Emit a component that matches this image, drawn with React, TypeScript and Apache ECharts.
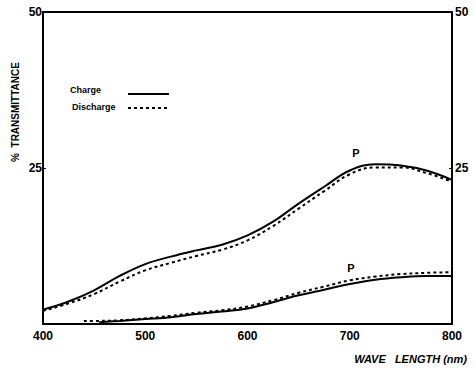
import React, { useEffect, useRef } from "react";
import * as echarts from "echarts";

const wavelengths = [400, 425, 450, 475, 500, 525, 550, 575, 600, 625, 650, 675, 700, 725, 750, 775, 800];
const chargeHigh = [2.3, 3.6, 5.4, 7.7, 9.6, 10.8, 11.8, 12.7, 14.2, 16.4, 19.3, 22.0, 24.6, 25.6, 25.4, 24.6, 23.1];
const dischargeHigh = [2.1, 3.3, 4.8, 6.8, 8.6, 9.8, 10.9, 11.9, 13.4, 15.7, 18.5, 21.3, 24.0, 25.1, 25.1, 24.2, 22.8];

const wavelengthsLow = [440, 455, 475, 500, 525, 550, 575, 600, 625, 650, 675, 700, 725, 750, 775, 800];
const chargeLow = [null, 0.3, 0.5, 0.8, 1.1, 1.6, 2.0, 2.5, 3.5, 4.6, 5.5, 6.4, 7.1, 7.5, 7.7, 7.7];
const dischargeLow = [0.5, 0.5, 0.6, 0.9, 1.3, 1.8, 2.2, 2.8, 3.8, 5.0, 6.0, 7.0, 7.6, 8.0, 8.2, 8.3];

const yTicks = [25, 50];
const xTicks = [400, 500, 600, 700, 800];

const NARROW = "'Liberation Sans Narrow', 'Liberation Sans', Arial, sans-serif";
const SANS = "'Liberation Sans', Arial, sans-serif";

function pairs(xs: number[], ys: (number | null)[]) {
  return xs.map((x, i) => [x, ys[i]]);
}

export default function App() {
  const ref = useRef<HTMLDivElement>(null);
  useEffect(() => {
    if (!ref.current) return;
    const chart = echarts.init(ref.current, null, { renderer: "svg" });
    const yLabel = {
      color: "#000",
      fontFamily: SANS,
      fontWeight: "bold" as const,
      fontSize: 12,
      formatter: (v: number) => (yTicks.includes(v) ? String(v) : ""),
    };
    const lineStyleSolid = { color: "#000", width: 2, type: "solid" as const };
    const lineStyleDash = { color: "#000", width: 2, type: [3, 3] as any };
    chart.setOption({
      animation: false,
      backgroundColor: "#fff",
      grid: { left: 43, right: 22, top: 12, bottom: 48 },
      xAxis: {
        type: "value",
        min: 400,
        max: 800,
        interval: 100,
        position: "bottom",
        axisLine: { show: true, lineStyle: { color: "#000", width: 2 } },
        axisTick: { show: false },
        splitLine: { show: false },
        axisLabel: {
          color: "#000",
          fontFamily: SANS,
          fontWeight: "bold",
          fontSize: 12,
          margin: 6,
          formatter: (v: number) => (xTicks.includes(v) ? String(v) : ""),
        },
      },
      yAxis: [
        {
          type: "value",
          min: 0,
          max: 50,
          interval: 25,
          position: "left",
          axisLine: { show: true, lineStyle: { color: "#000", width: 2 } },
          axisTick: { show: true, inside: true, length: 3, lineStyle: { color: "#000" } },
          splitLine: { show: false },
          axisLabel: { ...yLabel, margin: 1 },
        },
        {
          type: "value",
          min: 0,
          max: 50,
          interval: 25,
          position: "right",
          axisLine: { show: true, lineStyle: { color: "#000", width: 2 } },
          axisTick: { show: true, inside: true, length: 3, lineStyle: { color: "#000" } },
          splitLine: { show: false },
          axisLabel: { ...yLabel, margin: 3 },
        },
      ],
      series: [
        {
          name: "Charge",
          type: "line",
          smooth: 0.4,
          showSymbol: false,
          data: pairs(wavelengths, chargeHigh),
          lineStyle: lineStyleSolid,
          z: 3,
        },
        {
          name: "Discharge",
          type: "line",
          smooth: 0.4,
          showSymbol: false,
          data: pairs(wavelengths, dischargeHigh),
          lineStyle: lineStyleDash,
        },
        {
          name: "Charge",
          type: "line",
          smooth: 0.4,
          showSymbol: false,
          connectNulls: false,
          data: pairs(wavelengthsLow, chargeLow),
          lineStyle: lineStyleSolid,
          z: 3,
        },
        {
          name: "Discharge",
          type: "line",
          smooth: 0.4,
          showSymbol: false,
          data: pairs(wavelengthsLow, dischargeLow),
          lineStyle: lineStyleDash,
        },
      ],
      graphic: [
        // top frame
        { type: "rect", shape: { x: 42, y: 11, width: 411, height: 2 }, style: { fill: "#000" }, z: 10 },
        // legend
        { type: "text", x: 70, y: 90, style: { text: "Charge", font: `bold 9px ${NARROW}`, fill: "#000", textVerticalAlign: "middle" } },
        { type: "rect", shape: { x: 128, y: 93, width: 41, height: 2 }, style: { fill: "#000" } },
        { type: "text", x: 72, y: 107, style: { text: "Discharge", font: `bold 9px ${NARROW}`, fill: "#000", textVerticalAlign: "middle" } },
        { type: "line", shape: { x1: 128, y1: 108, x2: 170, y2: 108 }, style: { stroke: "#000", lineWidth: 2, lineDash: [3, 3] } },
        // P labels
        { type: "text", x: 356, y: 153, style: { text: "P", font: `bold 11px ${SANS}`, fill: "#000", textAlign: "center", textVerticalAlign: "middle" } },
        { type: "text", x: 351, y: 268, style: { text: "P", font: `bold 11px ${SANS}`, fill: "#000", textAlign: "center", textVerticalAlign: "middle" } },
        // y axis title
        {
          type: "text",
          x: 15,
          y: 112,
          rotation: Math.PI / 2,
          style: { text: "%  TRANSMITTANCE", font: `bold 10px ${SANS}`, fill: "#000", textAlign: "center", textVerticalAlign: "middle" },
        },
        // x axis title
        { type: "text", x: 467, y: 359, style: { text: "WAVE   LENGTH (nm)", font: `italic bold 11px ${SANS}`, fill: "#000", textAlign: "right", textVerticalAlign: "middle" } },
      ],
    });
    return () => chart.dispose();
  }, []);
  return <div ref={ref} style={{ width: 474, height: 372, position: "absolute", left: 0, top: 0 }} />;
}
